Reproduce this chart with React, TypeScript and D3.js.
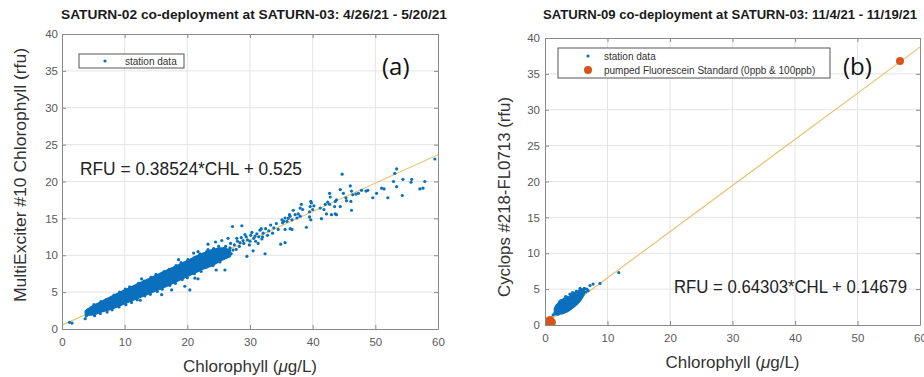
import React, { useEffect, useRef } from "react";
import * as d3 from "d3";

const X_TICKS = [0, 10, 20, 30, 40, 50, 60];
const Y_TICKS = [0, 5, 10, 15, 20, 25, 30, 35, 40];

// ---- panel (a): SATURN-02 MultiExciter vs chlorophyll
const A_TITLE = "SATURN-02 co-deployment at SATURN-03: 4/26/21 - 5/20/21";
const A_YLABEL = "MultiExciter #10 Chlorophyll (rfu)";
const A_EQUATION = "RFU = 0.38524*CHL + 0.525";
const A_FIT = { slope: 0.38524, intercept: 0.525 };
// solid core of the cloud (x, low y, high y)
const A_CORE_X = [3.8, 5, 6, 8, 10, 12, 14, 16, 18, 20, 22, 24, 25.5, 26.8];
const A_CORE_LO = [1.95, 2.0, 2.3, 2.8, 3.5, 4.2, 4.9, 5.6, 6.4, 7.2, 8.0, 8.7, 9.4, 9.9];
const A_CORE_HI = [2.4, 3.1, 3.5, 4.4, 5.2, 6.0, 6.8, 7.6, 8.4, 9.2, 10.0, 10.7, 10.9, 10.7];
const A_POINTS: [number, number][] = [
  [1.2, 0.9], [1.6, 0.8], [3.7, 1.4], [4.1, 2.6], [3.9, 1.8],
  [5.1, 3.3], [6.2, 3.7], [7.1, 4.0], [8.3, 4.6], [9.2, 5.0], [10.1, 5.4], [10.8, 5.7], [12.2, 6.2],
  [13.1, 6.5], [14.2, 7.0], [15.0, 7.4], [16.3, 7.8], [17.1, 8.1], [18.2, 8.6], [19.0, 9.0], [20.1, 9.4],
  [21.2, 9.7], [22.0, 10.2], [23.1, 10.5], [24.2, 10.9], [25.0, 11.2],
  [5.2, 1.8], [6.1, 2.1], [7.2, 2.3], [8.0, 2.6], [9.1, 3.0], [10.2, 3.3], [11.1, 3.6], [12.0, 3.95],
  [13.2, 4.5], [14.1, 4.7], [15.2, 5.1], [16.0, 5.4], [17.2, 5.9], [18.1, 6.2], [19.2, 6.7], [20.0, 6.95],
  [21.1, 7.5], [22.2, 7.8], [23.0, 8.4], [24.1, 8.6], [25.2, 9.1],
  [15.9, 4.65], [19.6, 5.8], [20.4, 5.3], [21.2, 6.9], [21.7, 6.8], [24.6, 8.0], [26.0, 8.0], [17.5, 5.3], [12.5, 3.9],
  [12.7, 6.8], [18.6, 9.4], [21.0, 10.3], [23.3, 10.75], [23.3, 11.5], [21.7, 10.5], [24.5, 11.8],
  [25.5, 12.0], [26.5, 12.3], [27.2, 13.9], [28.7, 14.0],
  [26.3, 10.5], [26.8, 11.0], [27.0, 10.2], [27.5, 11.4], [27.8, 10.8], [28.0, 11.9], [28.3, 11.2],
  [28.6, 12.4], [29.0, 11.6], [29.2, 12.8], [29.5, 9.85], [29.6, 12.1], [29.9, 11.4], [30.1, 12.7],
  [30.3, 13.1], [30.5, 10.6], [30.6, 12.3], [30.9, 11.9], [31.1, 12.9], [31.4, 12.5], [31.6, 13.4],
  [31.9, 12.2], [32.1, 13.0], [32.4, 10.2], [32.5, 13.6], [32.8, 12.7], [33.0, 13.3], [33.3, 14.1],
  [26.1, 11.2], [26.6, 10.0], [27.3, 10.7], [27.9, 12.3], [28.4, 11.7], [29.4, 12.5], [30.0, 11.9],
  [30.8, 12.6], [31.3, 11.6], [32.0, 12.5], [25.8, 10.9], [26.9, 11.6], [28.9, 12.0], [31.8, 13.6],
  [33.6, 13.0], [33.8, 13.7], [34.2, 14.3], [34.5, 13.5], [34.9, 11.5], [35.1, 14.8], [35.2, 14.4],
  [35.4, 14.6], [35.6, 11.7], [35.6, 13.5], [35.6, 15.05], [35.9, 14.6], [36.1, 15.0], [36.3, 15.5],
  [36.4, 15.3], [36.4, 13.6], [36.7, 14.8], [36.7, 13.5], [36.9, 16.1], [37.2, 15.5], [37.5, 15.05],
  [37.7, 15.6], [38.0, 15.3], [38.0, 16.4], [38.2, 16.9], [38.4, 16.2], [39.0, 13.8], [39.5, 15.2],
  [39.5, 15.9], [39.6, 16.6], [39.7, 17.3], [39.7, 14.8], [39.8, 17.1], [40.0, 16.2], [40.2, 16.7],
  [41.2, 16.4], [41.4, 14.96], [41.8, 16.2], [42.0, 16.9], [42.2, 15.6], [42.4, 17.2], [42.7, 18.4],
  [42.7, 16.9], [42.8, 17.9], [43.0, 15.5], [43.5, 16.6], [43.6, 17.3], [43.6, 15.6], [43.8, 17.5],
  [43.8, 15.5], [44.4, 18.9], [44.4, 16.6], [44.7, 21.0], [44.9, 18.4], [45.3, 17.8], [45.4, 17.4],
  [46.0, 19.4], [46.1, 17.3], [46.2, 18.7], [46.2, 16.1], [46.4, 18.2], [46.9, 18.3], [47.3, 18.4],
  [47.8, 18.8], [48.5, 18.7], [48.8, 18.8], [49.6, 17.8], [50.2, 18.4], [51.0, 19.1], [51.4, 19.0],
  [52.0, 17.8], [52.9, 20.0], [53.1, 21.1], [53.4, 21.7], [53.4, 19.3], [54.3, 18.1], [54.4, 20.3],
  [55.7, 19.9], [55.8, 20.3], [57.1, 19.0], [57.6, 19.1], [57.9, 20.0], [59.5, 23.05],
];

// ---- panel (b): SATURN-09 Cyclops vs chlorophyll
const B_TITLE = "SATURN-09 co-deployment at SATURN-03: 11/4/21 - 11/19/21";
const B_YLABEL = "Cyclops #218-FL0713 (rfu)";
const B_EQUATION = "RFU = 0.64303*CHL + 0.14679";
const B_FIT = { slope: 0.64303, intercept: 0.14679 };
const B_CORE_X = [1.6, 2.4, 3.5, 4.5, 5.5, 6.2];
const B_CORE_LO = [1.5, 1.6, 1.9, 2.5, 3.3, 4.3];
const B_CORE_HI = [2.3, 3.2, 3.7, 4.2, 4.8, 5.0];
const B_POINTS: [number, number][] = [
  [1.3, 1.4], [1.6, 1.7], [1.9, 2.7], [2.1, 1.5], [2.2, 2.9], [2.6, 3.4], [2.8, 1.7], [3.0, 3.6],
  [3.2, 2.0], [3.5, 3.9], [3.8, 2.2], [4.0, 4.3], [4.2, 2.6], [4.6, 4.4], [4.8, 3.0], [5.0, 4.7],
  [5.3, 3.4], [5.4, 4.5], [5.8, 4.9], [6.0, 4.2], [6.3, 5.1], [6.5, 4.6], [6.9, 4.8], [7.2, 5.5],
  [7.7, 5.7], [8.8, 5.8], [11.8, 7.3], [2.4, 3.3], [3.3, 3.95], [4.4, 4.5], [5.6, 5.1], [6.7, 5.0],
];
const B_STANDARDS: [number, number][] = [
  [0.4, 0.5], [0.8, 0.7], [1.1, 0.4], [0.6, 0.3], [56.8, 36.8],
];

const BLUE = "#0a70bd";
const ORANGE = "#d95319";
const FIT_COLOR = "#e4c26a";
const GRID = "#e4e4e4";
const BOX = "#8a8a8a";
const FONT = "'Liberation Sans', Arial, sans-serif";

function drawPanel(svg, p) {
  const x = d3.scaleLinear().domain([0, 60]).range([p.left, p.right]);
  const y = d3.scaleLinear().domain([0, 40]).range([p.bottom, p.top]);
  const g = svg.append("g");

  g.append("rect")
    .attr("x", p.left).attr("y", p.top)
    .attr("width", p.right - p.left).attr("height", p.bottom - p.top)
    .attr("fill", "white");

  // grid
  g.append("g").selectAll("line").data(X_TICKS.slice(1, -1)).join("line")
    .attr("x1", (d) => x(d)).attr("x2", (d) => x(d))
    .attr("y1", p.top).attr("y2", p.bottom)
    .attr("stroke", GRID);
  g.append("g").selectAll("line").data(Y_TICKS.slice(1, -1)).join("line")
    .attr("y1", (d) => y(d)).attr("y2", (d) => y(d))
    .attr("x1", p.left).attr("x2", p.right)
    .attr("stroke", GRID);

  const clipId = "clip-" + p.id;
  svg.append("clipPath").attr("id", clipId).append("rect")
    .attr("x", p.left).attr("y", p.top)
    .attr("width", p.right - p.left).attr("height", p.bottom - p.top);
  const plot = g.append("g").attr("clip-path", `url(#${clipId})`);

  // fit line
  plot.append("line")
    .attr("x1", x(0)).attr("y1", y(p.fit.intercept))
    .attr("x2", x(60)).attr("y2", y(p.fit.slope * 60 + p.fit.intercept))
    .attr("stroke", FIT_COLOR).attr("stroke-width", 1.1);

  // dense core of the point cloud
  const core = p.coreX.map((cx, i) => [cx, p.coreLo[i], p.coreHi[i]]);
  plot.append("path")
    .datum(core)
    .attr("d", d3.area()
      .x((d) => x(d[0]))
      .y0((d) => y(d[1]))
      .y1((d) => y(d[2]))
      .curve(d3.curveCatmullRom))
    .attr("fill", BLUE)
    .attr("stroke", BLUE).attr("stroke-width", 2.5).attr("stroke-linejoin", "round");

  plot.append("g").selectAll("circle").data(p.points).join("circle")
    .attr("cx", (d) => x(d[0])).attr("cy", (d) => y(d[1]))
    .attr("r", 1.6).attr("fill", BLUE);

  if (p.standards) {
    plot.append("g").selectAll("circle").data(p.standards).join("circle")
      .attr("cx", (d) => x(d[0])).attr("cy", (d) => y(d[1]))
      .attr("r", 4).attr("fill", ORANGE);
  }

  // axes, ticks inside on all four sides (matlab box)
  const styleAxis = (a) => {
    a.select(".domain").attr("stroke", BOX);
    a.selectAll(".tick line").attr("stroke", BOX);
    a.selectAll("text").attr("fill", "#5a5a5a").attr("font-size", 11.5).attr("font-family", FONT);
  };
  g.append("g").attr("transform", `translate(0,${p.bottom})`)
    .call(d3.axisBottom(x).tickValues(X_TICKS).tickSize(-4).tickSizeOuter(0).tickPadding(9))
    .call(styleAxis);
  g.append("g").attr("transform", `translate(0,${p.top})`)
    .call(d3.axisTop(x).tickValues(X_TICKS).tickSize(-4).tickSizeOuter(0).tickFormat(() => ""))
    .call(styleAxis);
  g.append("g").attr("transform", `translate(${p.left},0)`)
    .call(d3.axisLeft(y).tickValues(Y_TICKS).tickSize(-4).tickSizeOuter(0).tickPadding(p.yPad))
    .call(styleAxis);
  g.append("g").attr("transform", `translate(${p.right},0)`)
    .call(d3.axisRight(y).tickValues(Y_TICKS).tickSize(-4).tickSizeOuter(0).tickFormat(() => ""))
    .call(styleAxis);

  // title
  svg.append("text")
    .attr("x", p.titleX).attr("y", 19)
    .attr("text-anchor", "middle")
    .attr("font-family", FONT).attr("font-weight", "bold").attr("font-size", 13)
    .attr("textLength", p.titleW).attr("lengthAdjust", "spacingAndGlyphs")
    .attr("fill", "#1a1a1a")
    .text(p.title);

  // axis labels
  const xl = svg.append("text")
    .attr("x", (p.left + p.right) / 2).attr("y", p.xLabelY)
    .attr("text-anchor", "middle")
    .attr("font-family", FONT).attr("font-size", 17).attr("fill", "#333");
  xl.append("tspan").text("Chlorophyll (");
  xl.append("tspan").attr("font-style", "italic").text("\u03bc");
  xl.append("tspan").text("g/L)");

  svg.append("text")
    .attr("transform", `translate(${p.yLabelX},${p.yLabelY}) rotate(-90)`)
    .attr("text-anchor", "middle")
    .attr("font-family", FONT).attr("font-size", 17).attr("fill", "#333")
    .attr("textLength", p.yLabelW).attr("lengthAdjust", "spacingAndGlyphs")
    .text(p.yLabel);

  // equation
  svg.append("text")
    .attr("x", p.eqX).attr("y", p.eqY)
    .attr("font-family", FONT).attr("font-size", 17.5).attr("fill", "#222")
    .attr("textLength", p.eqW).attr("lengthAdjust", "spacingAndGlyphs")
    .text(p.equation);

  // panel letter
  svg.append("text")
    .attr("x", p.letterX).attr("y", 75)
    .attr("font-family", "'Open Sans', 'Liberation Sans', sans-serif").attr("font-size", 24).attr("fill", "#111")
    .text(p.letter);

  // legend
  const lg = svg.append("g");
  lg.append("rect")
    .attr("x", p.legend.x).attr("y", p.legend.y)
    .attr("width", p.legend.w).attr("height", p.legend.h)
    .attr("fill", "white").attr("stroke", "#555").attr("stroke-width", 1);
  p.legend.items.forEach((item, i) => {
    const cy = p.legend.y + 8 + i * 14 + (p.legend.items.length === 1 ? -1 : 0);
    lg.append("circle")
      .attr("cx", p.legend.markerX).attr("cy", cy)
      .attr("r", item.big ? 4 : 1.6)
      .attr("fill", item.big ? ORANGE : BLUE);
    lg.append("text")
      .attr("x", p.legend.textX).attr("y", cy + 3.5)
      .attr("font-family", FONT).attr("font-size", 10).attr("fill", "#333")
      .text(item.label);
  });
}

export default function App() {
  const ref = useRef(null);

  useEffect(() => {
    const svg = d3.select(ref.current);
    svg.selectAll("*").remove();

    drawPanel(svg, {
      id: "a", left: 62, right: 438, top: 34, bottom: 329,
      title: A_TITLE, titleX: 254, titleW: 386,
      yLabel: A_YLABEL, yLabelX: 26, yLabelY: 175, yLabelW: 254,
      xLabelY: 372, yPad: 4,
      fit: A_FIT, coreX: A_CORE_X, coreLo: A_CORE_LO, coreHi: A_CORE_HI,
      points: A_POINTS, standards: null,
      equation: A_EQUATION, eqX: 80, eqY: 175, eqW: 222,
      letter: "(a)", letterX: 382,
      legend: {
        x: 79, y: 54, w: 105, h: 14, markerX: 105, textX: 125,
        items: [{ label: "station data" }],
      },
    });

    drawPanel(svg, {
      id: "b", left: 545, right: 920, top: 38, bottom: 325,
      title: B_TITLE, titleX: 730, titleW: 374,
      yLabel: B_YLABEL, yLabelX: 510, yLabelY: 197, yLabelW: 200,
      xLabelY: 368, yPad: 5,
      fit: B_FIT, coreX: B_CORE_X, coreLo: B_CORE_LO, coreHi: B_CORE_HI,
      points: B_POINTS, standards: B_STANDARDS,
      equation: B_EQUATION, eqX: 674, eqY: 293, eqW: 233,
      letter: "(b)", letterX: 843,
      legend: {
        x: 558, y: 48, w: 272, h: 30, markerX: 588, textX: 604,
        items: [{ label: "station data" }, { label: "pumped Fluorescein Standard (0ppb & 100ppb)", big: true }],
      },
    });
  }, []);

  return (
    <svg
      ref={ref}
      width={924}
      height={377}
      style={{ position: "absolute", left: 0, top: 0, background: "white" }}
    />
  );
}
